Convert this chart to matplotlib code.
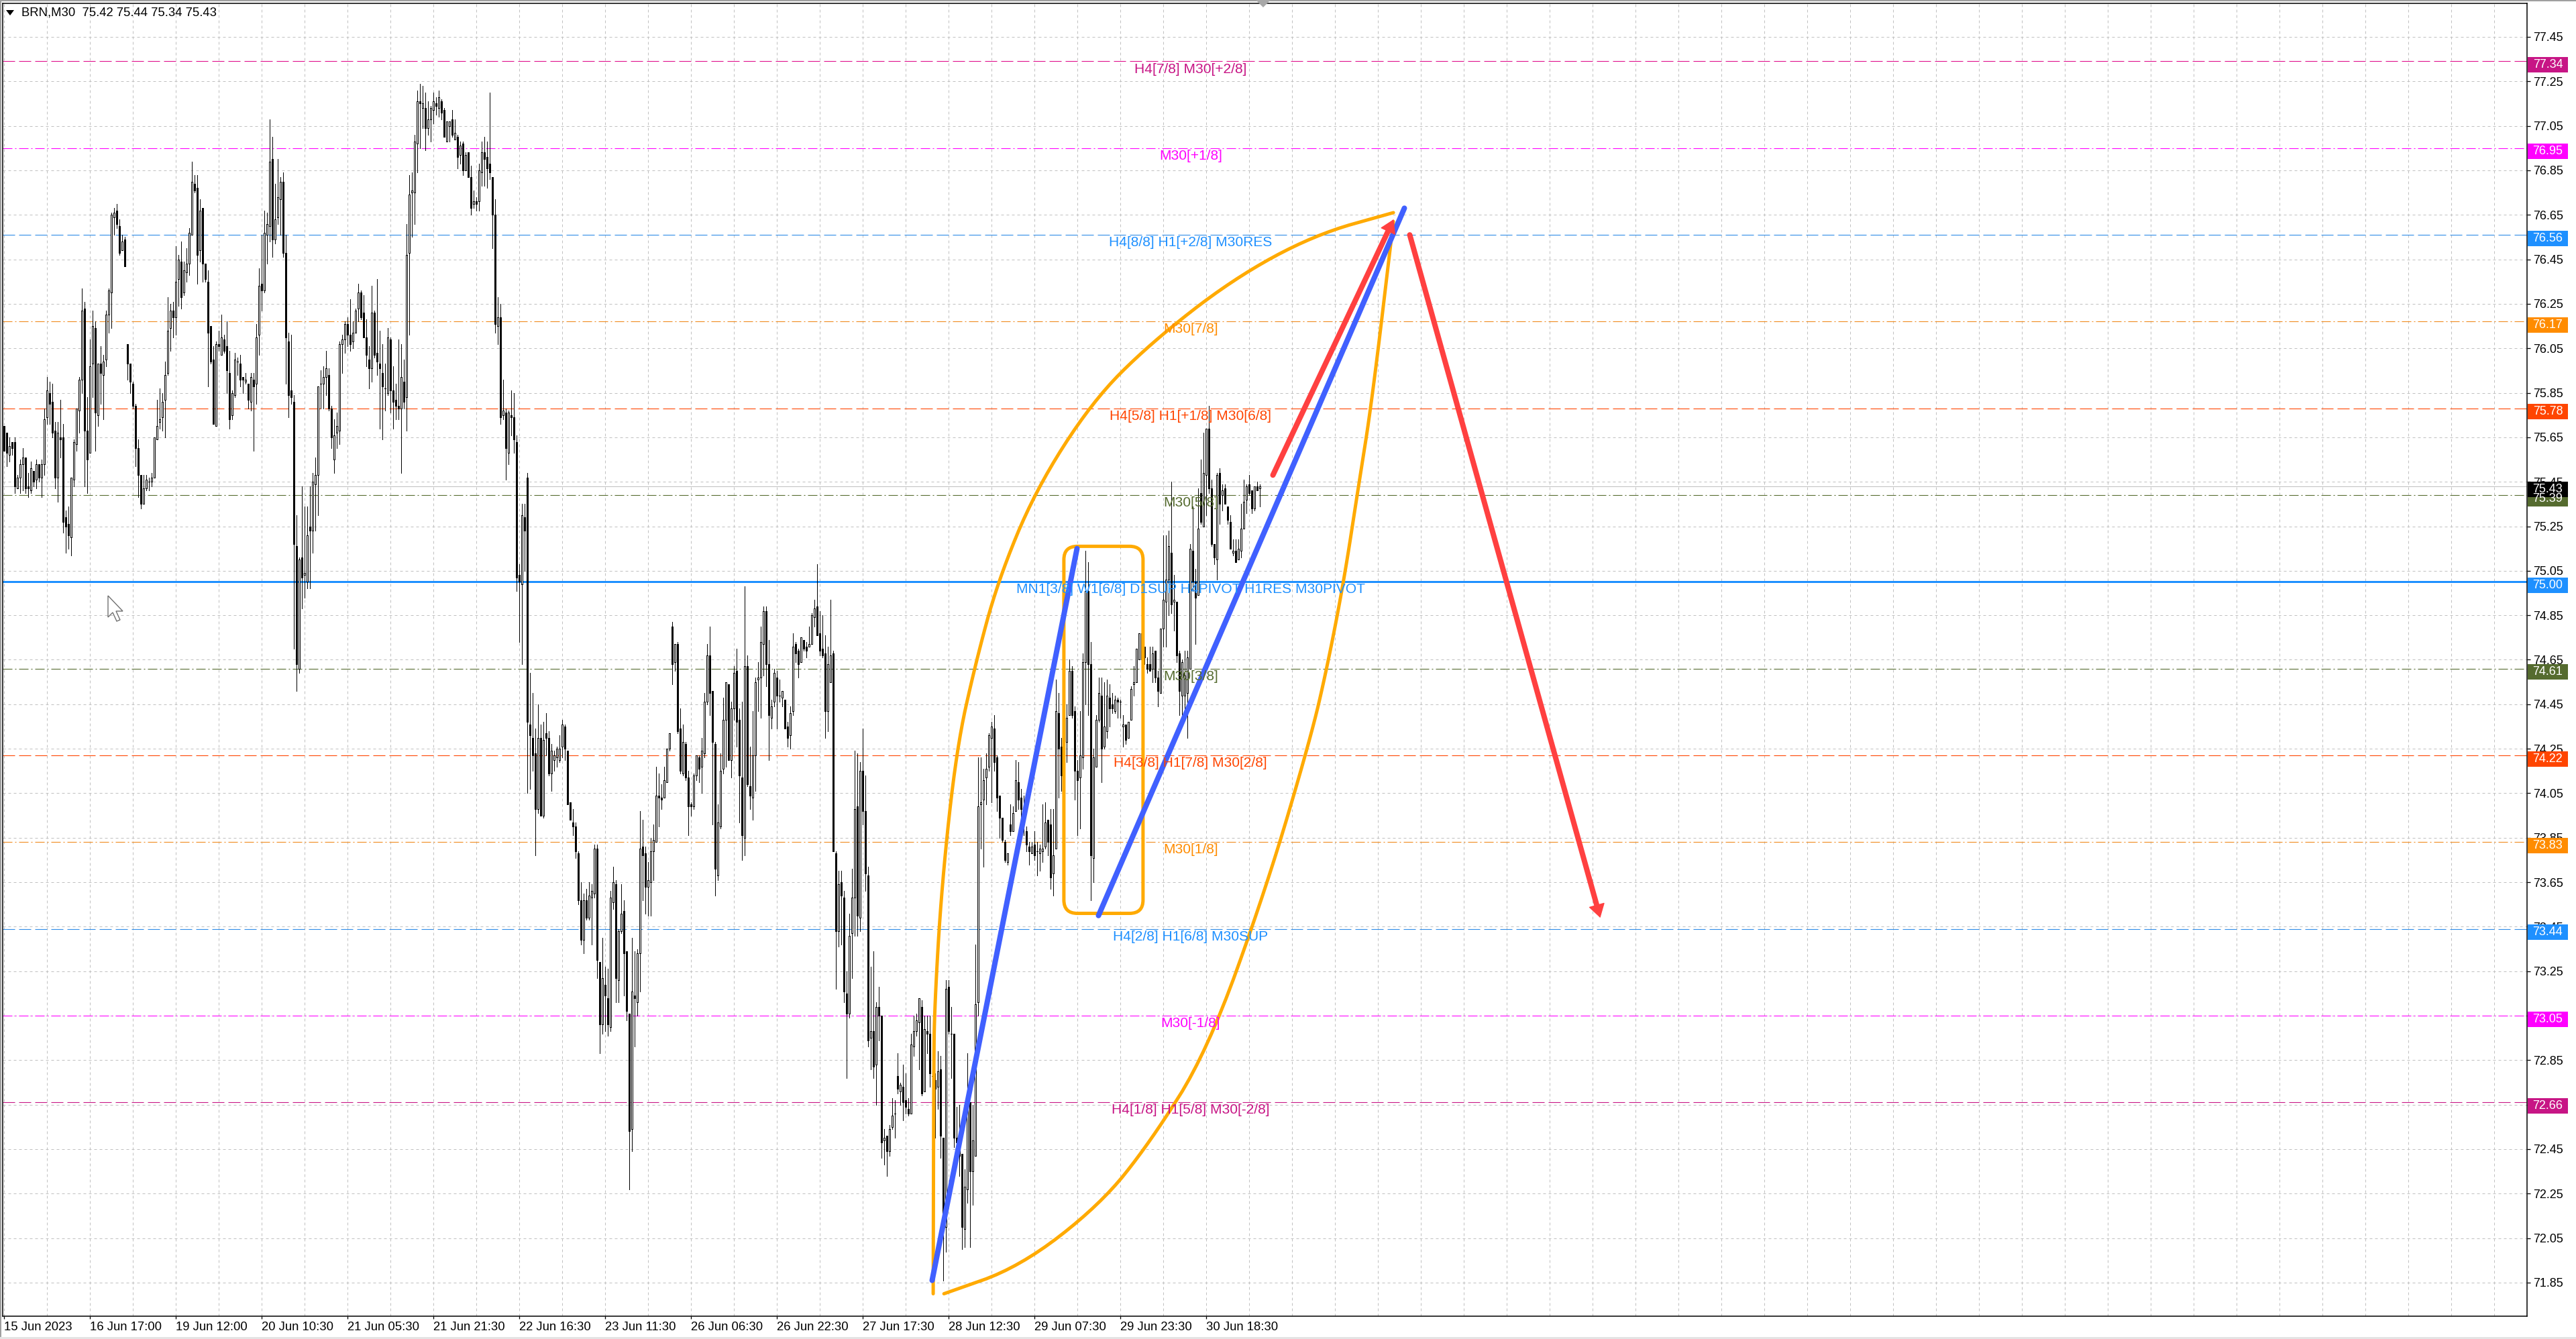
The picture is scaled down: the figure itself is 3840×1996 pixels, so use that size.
import numpy as np
import matplotlib
matplotlib.use("Agg")
import matplotlib.pyplot as plt
from matplotlib.patches import FancyBboxPatch, Polygon, Rectangle
from matplotlib.transforms import blended_transform_factory

plt.rcParams['font.family'] = ['Liberation Sans', 'DejaVu Sans']
plt.rcParams['lines.scale_dashes'] = False

opens = [
75.70,75.67,75.57,75.63,75.63,75.42,75.47,75.53,75.56,75.43,
75.41,75.50,75.46,75.53,75.47,75.53,75.74,75.85,75.81,75.68,
75.47,75.65,75.65,75.29,75.26,75.20,75.46,75.62,75.77,75.91,
76.23,75.68,75.58,75.98,76.14,75.75,75.98,75.93,76.00,76.20,
76.30,76.64,76.67,76.60,76.49,76.54,76.07,75.98,75.89,75.79,
75.60,75.48,75.35,75.42,75.45,75.45,75.47,75.64,75.72,75.74,
75.82,75.94,76.14,76.22,76.19,76.36,76.44,76.30,76.39,76.43,
76.56,76.79,76.77,76.49,76.68,76.43,76.35,76.15,76.00,75.70,
76.07,76.02,76.09,76.06,75.94,75.75,75.84,75.99,75.98,75.92,
75.90,75.89,75.81,75.91,75.89,76.11,76.34,76.31,76.56,76.60,
76.90,76.54,76.64,76.72,76.80,76.48,76.08,75.86,75.81,75.16,
74.61,75.11,75.03,75.00,75.25,75.23,75.44,75.48,75.89,75.89,
75.92,75.93,75.78,75.55,75.67,75.68,76.07,76.09,76.16,76.11,
76.08,76.12,76.23,76.30,76.21,76.10,76.00,75.96,76.21,76.03,
75.98,75.94,75.87,75.85,76.09,75.86,75.82,75.79,75.78,75.90,
75.83,76.48,76.75,76.75,76.97,77.16,77.13,77.13,77.04,77.08,
77.12,77.15,77.13,77.16,77.12,76.98,77.05,77.08,76.99,77.00,
76.92,76.97,76.85,76.93,76.82,76.70,76.71,76.71,76.84,76.93,
76.91,76.88,76.82,76.65,76.15,76.19,75.75,75.76,75.58,75.75,
75.74,75.63,75.03,74.99,75.29,75.47,74.36,74.30,74.23,73.98,
74.30,73.95,74.32,74.30,74.14,74.20,74.21,74.20,74.26,74.35,
74.24,74.01,73.92,73.90,73.78,73.57,73.39,73.57,73.49,73.58,
73.60,73.80,73.29,73.01,73.19,73.13,73.00,73.56,73.64,73.21,
73.43,73.52,73.34,73.06,72.54,73.14,73.11,73.33,73.81,73.78,
73.63,73.65,73.79,73.83,74.04,74.03,74.03,74.10,74.25,74.80,
74.64,74.72,74.34,74.14,74.27,74.12,74.00,73.99,74.13,74.21,
74.17,74.23,74.46,74.67,74.51,74.27,73.68,73.90,74.16,74.38,
74.54,74.20,74.43,74.60,74.38,74.12,73.85,74.62,74.08,74.03,
74.22,74.56,74.57,74.72,74.87,74.63,74.39,74.46,74.57,74.49,
74.48,74.47,74.35,74.31,74.42,74.72,74.69,74.64,74.74,74.71,
74.71,74.72,74.84,74.89,74.77,74.70,74.68,74.42,74.55,74.68,
73.78,73.43,73.65,73.58,73.15,73.06,73.42,73.58,73.99,73.49,
74.15,73.97,73.68,72.95,72.98,72.83,73.09,73.05,72.49,72.51,
72.44,72.55,72.61,72.78,72.71,72.73,72.67,72.63,72.61,72.91,
72.98,73.02,73.09,72.71,72.98,72.97,72.78,72.76,72.73,72.81,
72.50,72.10,73.18,72.97,72.97,72.50,72.48,72.43,72.09,72.27,
72.66,72.35,72.42,73.11,74.00,74.02,74.12,74.17,74.30,74.34,
74.21,74.04,73.94,73.83,73.74,73.91,73.88,73.97,74.10,74.03,
73.98,73.88,73.81,73.78,73.82,73.79,73.78,73.79,73.81,73.93,
73.91,73.69,73.80,74.41,74.26,74.27,74.28,74.40,74.60,74.42,
74.15,74.12,74.21,74.64,74.96,74.63,73.76,74.17,74.38,74.49,
74.26,74.33,74.48,74.45,74.42,74.47,74.46,74.35,74.36,74.30,
74.38,74.54,74.55,74.65,74.77,74.71,74.63,74.63,74.61,74.69,
74.57,74.50,74.79,74.91,75.01,75.13,74.91,74.91,74.68,74.49,
74.49,74.50,74.61,75.14,75.00,74.94,75.40,75.25,75.48,75.69,
75.42,75.17,75.10,75.49,75.39,75.42,75.34,75.27,75.13,75.14,
75.10,75.14,75.24,75.37,75.44,75.41,75.33,75.43,75.42]

highs = [
75.70,75.67,75.65,75.63,75.65,75.48,75.55,75.60,75.56,75.49,
75.54,75.50,75.55,75.53,75.55,75.78,75.92,75.90,75.89,75.72,
75.72,75.82,75.71,75.32,75.34,75.47,75.64,75.78,75.92,76.32,
76.26,75.83,76.09,76.22,76.17,75.98,76.06,76.02,76.22,76.32,
76.66,76.68,76.70,76.63,76.56,76.55,76.07,75.98,75.90,75.80,
75.64,75.48,75.48,75.48,75.47,75.49,75.65,75.82,75.87,75.85,
75.99,76.28,76.25,76.26,76.51,76.47,76.53,76.44,76.50,76.59,
76.89,76.83,76.83,76.72,76.68,76.43,76.40,76.15,76.06,76.08,
76.13,76.20,76.11,76.17,76.04,75.86,76.03,76.01,76.02,75.92,
75.94,75.89,75.94,75.94,76.16,76.41,76.56,76.67,76.66,77.08,
77.00,76.79,76.90,76.82,76.84,76.56,76.12,76.11,75.84,75.30,
75.11,75.43,75.34,75.34,75.43,75.49,75.56,75.88,75.95,75.97,
76.04,75.96,75.79,75.73,75.76,76.08,76.11,76.17,76.19,76.27,
76.17,76.23,76.34,76.31,76.29,76.18,76.06,76.33,76.22,76.36,
76.13,76.07,75.98,76.14,76.10,75.97,75.89,76.09,76.07,76.00,
76.61,76.83,76.84,77.01,77.21,77.24,77.23,77.20,77.16,77.14,
77.20,77.18,77.21,77.17,77.13,77.07,77.07,77.12,77.08,77.01,
76.98,76.98,76.93,76.93,76.87,76.76,76.73,76.88,76.98,77.00,
76.98,77.20,76.82,76.72,76.28,76.25,75.91,75.78,75.77,75.86,
75.85,75.66,75.08,75.35,75.35,75.49,74.59,74.50,74.34,74.45,
74.36,74.37,74.41,74.33,74.27,74.24,74.26,74.31,74.38,74.36,
74.24,74.01,73.98,73.92,73.79,73.65,73.60,73.62,73.65,73.64,
73.82,73.82,73.29,73.40,73.27,73.26,73.61,73.72,73.66,73.44,
73.64,73.57,73.34,73.06,73.40,73.34,73.35,73.97,73.93,73.81,
73.74,73.85,73.91,74.17,74.14,74.09,74.17,74.25,74.32,74.82,
74.72,74.73,74.43,74.36,74.28,74.15,74.01,74.14,74.22,74.22,
74.30,74.50,74.72,74.80,74.51,74.28,74.00,74.23,74.48,74.55,
74.54,74.46,74.62,74.70,74.43,74.46,74.98,74.67,74.26,74.42,
74.57,74.64,74.80,74.89,74.89,74.74,74.47,74.61,74.60,74.56,
74.51,74.47,74.37,74.44,74.77,74.73,74.70,74.75,74.74,74.73,
74.80,74.86,74.92,75.08,74.87,74.85,74.76,74.71,74.92,74.69,
73.79,73.70,73.70,73.61,73.25,73.51,73.71,74.24,74.23,74.19,
74.34,74.13,73.72,73.27,73.34,73.11,73.18,73.05,72.54,72.51,
72.56,72.68,72.67,72.88,72.75,72.83,72.79,72.68,72.97,73.05,
73.06,73.13,73.12,73.05,73.05,73.05,72.79,72.79,72.89,72.87,
72.50,73.21,73.21,73.09,72.97,72.64,72.65,72.43,72.36,72.88,
72.66,72.65,73.37,74.21,74.21,74.16,74.23,74.32,74.37,74.40,
74.22,74.04,73.94,73.84,73.78,74.00,73.99,74.20,74.19,74.07,
74.04,73.90,73.83,73.83,73.88,73.83,73.82,74.00,74.01,73.93,
73.98,73.98,74.56,74.50,74.30,74.32,74.45,74.65,74.62,74.44,
74.20,74.42,74.68,75.14,75.09,74.73,74.25,74.40,74.57,74.57,
74.55,74.56,74.54,74.50,74.49,74.48,74.47,74.40,74.36,74.37,
74.53,74.62,74.70,74.77,74.77,74.71,74.66,74.71,74.71,74.69,
74.60,74.79,75.21,75.21,75.23,75.45,75.03,74.91,74.69,74.65,
74.69,74.69,75.17,75.34,75.06,75.42,75.55,75.67,75.69,75.79,
75.46,75.17,75.49,75.51,75.44,75.44,75.34,75.30,75.19,75.19,
75.19,75.35,75.46,75.44,75.48,75.41,75.43,75.45,75.44]

lows = [
75.59,75.52,75.54,75.57,75.40,75.42,75.40,75.41,75.40,75.38,
75.40,75.43,75.42,75.45,75.38,75.48,75.71,75.71,75.65,75.42,
75.36,75.56,75.22,75.13,75.15,75.12,75.43,75.59,75.67,75.85,
75.43,75.40,75.58,75.83,75.59,75.70,75.80,75.73,75.97,76.12,
76.14,76.56,76.59,76.47,76.49,76.42,75.91,75.85,75.78,75.52,
75.38,75.33,75.35,75.41,75.41,75.43,75.47,75.64,75.69,75.68,
75.65,75.93,76.04,76.10,76.11,76.24,76.23,76.29,76.35,76.38,
76.56,76.75,76.34,76.44,76.35,76.35,75.88,75.98,75.71,75.70,
76.04,76.02,76.03,75.85,75.69,75.73,75.83,75.93,75.88,75.85,
75.89,75.78,75.77,75.59,75.80,76.02,76.22,76.30,76.43,76.53,
76.46,76.52,76.61,76.56,76.46,75.89,75.74,75.80,74.70,74.51,
74.59,74.88,74.93,74.97,74.97,75.13,75.23,75.30,75.78,75.78,
75.84,75.77,75.60,75.49,75.60,75.62,75.94,76.03,76.06,76.04,
76.05,76.12,76.17,76.18,76.10,75.97,75.87,75.90,76.01,75.93,
75.69,75.64,75.77,75.84,75.76,75.69,75.73,75.73,75.49,75.78,
75.68,76.11,76.55,76.61,76.84,76.95,77.04,76.94,77.01,76.98,
77.06,77.10,77.09,77.08,77.00,76.98,76.98,77.00,76.99,76.86,
76.88,76.83,76.85,76.82,76.65,76.68,76.67,76.67,76.78,76.78,
76.77,76.81,76.50,76.12,76.07,75.71,75.73,75.46,75.53,75.66,
75.58,74.96,74.73,74.63,75.05,74.05,74.07,74.15,73.77,73.96,
73.95,73.94,74.22,74.13,74.06,74.15,74.17,74.19,74.21,74.20,
74.00,73.93,73.86,73.76,73.55,73.37,73.33,73.48,73.48,73.37,
73.58,73.22,72.88,72.97,72.98,72.96,72.98,73.53,73.11,73.11,
73.42,73.14,73.03,72.27,72.44,72.91,73.05,73.16,73.57,73.51,
73.50,73.50,73.66,73.83,73.90,73.98,74.03,74.10,74.24,74.54,
74.60,74.32,74.14,74.13,74.11,73.86,73.95,73.98,74.11,74.10,
74.05,74.21,74.45,74.40,73.91,73.59,73.66,73.89,74.14,74.17,
74.20,74.12,74.38,74.26,73.92,73.75,73.77,74.08,73.98,73.93,
74.06,74.42,74.39,74.58,74.53,74.20,74.34,74.44,74.34,74.46,
74.44,74.34,74.26,74.25,74.40,74.64,74.57,74.64,74.69,74.66,
74.71,74.72,74.80,74.76,74.67,74.66,74.30,74.33,74.55,73.79,
73.17,73.36,73.37,73.11,72.77,73.04,73.22,73.41,73.41,73.43,
73.91,73.61,72.91,72.81,72.77,72.65,72.94,72.41,72.38,72.33,
72.42,72.54,72.50,72.70,72.65,72.58,72.61,72.60,72.61,72.87,
72.96,72.81,72.69,72.71,72.88,72.73,72.77,72.50,72.63,72.41,
71.86,71.99,72.97,72.77,72.46,72.44,72.33,72.00,72.01,72.21,
72.01,72.20,72.42,73.05,73.80,73.72,74.00,74.15,74.01,74.15,
73.97,73.85,73.83,73.74,73.73,73.86,73.88,73.97,73.98,73.89,
73.86,73.79,73.73,73.78,73.75,73.68,73.70,73.74,73.80,73.77,
73.62,73.59,73.80,74.03,74.06,74.10,74.19,74.40,74.39,74.02,
73.86,73.89,74.16,74.45,74.40,73.57,73.65,74.17,74.37,74.10,
74.25,74.30,74.35,74.41,74.41,74.39,74.39,74.26,74.27,74.30,
74.38,74.49,74.55,74.65,74.63,74.63,74.59,74.60,74.55,74.55,
74.44,74.50,74.71,74.71,74.85,74.86,74.78,74.64,74.40,74.39,
74.40,74.30,74.61,74.96,74.72,74.94,75.26,75.25,75.30,75.40,
75.16,75.08,75.01,75.26,75.32,75.35,75.26,75.15,75.12,75.09,
75.10,75.11,75.24,75.31,75.39,75.31,75.32,75.41,75.34]

closes = [
75.59,75.58,75.61,75.60,75.43,75.47,75.53,75.56,75.42,75.42,
75.51,75.45,75.53,75.47,75.53,75.73,75.86,75.80,75.67,75.47,
75.67,75.64,75.27,75.25,75.21,75.47,75.63,75.78,75.91,76.22,
75.68,75.55,75.97,76.15,75.76,75.98,75.94,75.99,76.20,76.31,
76.65,76.66,76.61,76.48,76.53,76.42,75.98,75.90,75.79,75.60,
75.48,75.35,75.42,75.46,75.45,75.47,75.65,75.70,75.73,75.81,
75.93,76.13,76.22,76.19,76.35,76.45,76.28,76.40,76.43,76.57,
76.80,76.76,76.47,76.67,76.43,76.36,76.12,75.99,75.71,76.07,
76.06,76.10,76.04,75.95,75.73,75.85,76.00,75.99,75.91,75.91,
75.91,75.82,75.92,75.88,76.10,76.33,76.31,76.57,76.61,76.89,
76.54,76.63,76.73,76.80,76.48,76.10,75.84,75.83,75.17,74.63,
75.10,75.02,75.04,75.21,75.23,75.45,75.48,75.88,75.89,75.92,
75.96,75.78,75.65,75.66,75.70,76.07,76.09,76.16,76.11,76.07,
76.12,76.22,76.30,76.19,76.10,76.02,75.96,76.21,76.02,75.99,
75.96,75.88,75.87,76.10,75.86,75.81,75.79,75.78,75.92,75.81,
76.47,76.74,76.76,76.98,77.16,77.15,77.15,77.04,77.08,77.13,
77.16,77.14,77.18,77.11,77.00,77.07,77.07,77.01,77.02,76.91,
76.96,76.85,76.92,76.82,76.68,76.71,76.70,76.85,76.93,76.90,
76.86,76.84,76.65,76.16,76.19,75.74,75.77,75.60,75.76,75.74,
75.64,75.02,75.00,75.30,75.23,74.37,74.31,74.22,73.98,74.30,
73.95,74.29,74.30,74.14,74.24,74.22,74.25,74.25,74.36,74.25,
74.00,73.93,73.90,73.79,73.57,73.39,73.57,73.49,73.59,73.61,
73.80,73.30,73.01,73.22,73.14,73.01,73.58,73.65,73.22,73.43,
73.51,73.33,73.07,72.53,73.16,73.13,73.33,73.80,73.77,73.63,
73.66,73.79,73.84,74.04,74.03,74.02,74.11,74.25,74.32,74.63,
74.72,74.33,74.15,74.28,74.12,73.99,73.99,74.13,74.22,74.16,
74.24,74.46,74.67,74.50,74.28,73.71,73.92,74.15,74.38,74.55,
74.20,74.43,74.59,74.37,74.13,73.86,74.62,74.09,74.04,74.22,
74.55,74.57,74.73,74.87,74.63,74.40,74.44,74.59,74.49,74.49,
74.51,74.34,74.30,74.41,74.71,74.68,74.63,74.75,74.70,74.69,
74.72,74.85,74.88,74.76,74.69,74.67,74.42,74.63,74.67,73.79,
73.43,73.64,73.59,73.16,73.06,73.41,73.58,73.98,73.50,74.15,
73.97,73.69,72.94,72.98,72.82,73.09,73.05,72.48,72.50,72.44,
72.54,72.60,72.61,72.72,72.74,72.66,72.64,72.61,72.92,72.98,
73.03,73.13,72.70,72.99,72.97,72.79,72.78,72.72,72.80,72.51,
72.10,73.17,72.98,72.97,72.50,72.48,72.42,72.10,72.28,72.64,
72.35,72.49,73.10,73.99,74.01,74.11,74.16,74.31,74.35,74.19,
74.03,73.94,73.84,73.75,73.78,73.88,73.96,74.11,74.02,73.98,
73.91,73.82,73.79,73.81,73.77,73.79,73.80,73.80,73.92,73.83,
73.67,73.77,74.42,74.25,74.13,74.12,74.39,74.60,74.40,74.15,
74.11,74.22,74.64,74.96,74.63,73.77,74.21,74.38,74.50,74.25,
74.35,74.49,74.43,74.43,74.47,74.46,74.46,74.36,74.29,74.37,
74.52,74.55,74.70,74.77,74.65,74.66,74.61,74.60,74.68,74.57,
74.51,74.79,74.92,75.01,75.16,74.90,74.92,74.67,74.51,74.64,
74.58,74.66,75.15,75.00,74.93,75.24,75.27,75.49,75.69,75.42,
75.17,75.11,75.48,75.35,75.41,75.35,75.28,75.15,75.14,75.09,
75.15,75.24,75.36,75.43,75.40,75.33,75.43,75.41,75.43]

level_prices = [77.34, 76.95, 76.56, 76.17, 75.78, 75.39, 75.00, 74.61, 74.22, 73.83, 73.44, 73.05, 72.66]
level_texts = ["H4[7/8] M30[+2/8]", "M30[+1/8]", "H4[8/8] H1[+2/8] M30RES", "M30[7/8]",
               "H4[5/8] H1[+1/8] M30[6/8]", "M30[5/8]",
               "MN1[3/8] W1[6/8] D1SUP H4PIVOT H1RES M30PIVOT", "M30[3/8]",
               "H4[3/8] H1[7/8] M30[2/8]", "M30[1/8]", "H4[2/8] H1[6/8] M30SUP", "M30[-1/8]",
               "H4[1/8] H1[5/8] M30[-2/8]"]
level_colors = ["#C71585", "#FF00FF", "#1E90FF", "#FF8C00", "#FF4500", "#556B2F", "#1E90FF",
                "#556B2F", "#FF4500", "#FF8C00", "#1E90FF", "#FF00FF", "#C71585"]
level_line_colors = ["#E0108C", "#FF00FF", "#2E8BE8", "#F08A1E", "#FF4500", "#556B2F", "#1E90FF",
                     "#556B2F", "#FF4500", "#F08A1E", "#2E8BE8", "#FF00FF", "#C71585"]
level_kinds = ["dash", "dot", "dash", "dot", "dash", "dot", "solid", "dot", "dash", "dot", "dash", "dot", "dash"]

current_price = 75.43

ytick_values = [77.45,77.25,77.05,76.85,76.65,76.45,76.25,76.05,75.85,75.65,75.45,75.25,75.05,74.85,74.65,
                74.45,74.25,74.05,73.85,73.65,73.45,73.25,73.05,72.85,72.65,72.45,72.25,72.05,71.85]
xtick_labels = ["15 Jun 2023","16 Jun 17:00","19 Jun 12:00","20 Jun 10:30","21 Jun 05:30","21 Jun 21:30",
                "22 Jun 16:30","23 Jun 11:30","26 Jun 06:30","26 Jun 22:30","27 Jun 17:30","28 Jun 12:30",
                "29 Jun 07:30","29 Jun 23:30","30 Jun 18:30"]

blue_a_x = [346, 400]
blue_a_y = [71.86, 75.15]
blue_b_x = [408, 522]
blue_b_y = [73.50, 76.68]
red_up_x = [473, 518]
red_up_y = [75.48, 76.63]
red_down_x = [524, 595]
red_down_y = [76.56, 73.49]
arc_upper_x = [346.4, 346.6, 346.9, 349.6, 355.1, 362.1, 370.4, 384.4, 405.6, 427.1, 457.9, 488.4, 517.9]
arc_upper_y = [71.80, 72.81, 73.09, 73.64, 74.25, 74.63, 75.00, 75.41, 75.81, 76.07, 76.36, 76.56, 76.66]
arc_lower_x = [350.4, 378.6, 408.6, 427.2, 448.6, 470.7, 487.1, 493.1, 499.4, 504.9, 509.9, 517.9]
arc_lower_y = [71.80, 71.92, 72.20, 72.48, 72.89, 73.63, 74.30, 74.61, 75.00, 75.43, 75.81, 76.62]
box_x = [395.1, 424.6]
box_y = [73.51, 75.16]

W, H = 3840, 1996
PX = 0.72
L, R, T, B = 3.5, 3767.0, 4.5, 1962.0
fig = plt.figure(figsize=(W/100, H/100), dpi=100, facecolor="white")
ax = fig.add_axes([L/W, 1-B/H, (R-L)/W, (B-T)/H])
ax.set_xlim((L-5.5)/4, (R-5.5)/4)
ax.set_ylim(77.45-(B-55)/331.6, 77.45+(55-T)/331.6)

def chaikin(xs, ys, n=3):
    p = np.column_stack([xs, ys])
    for _ in range(n):
        q = [p[0]]
        for a, b in zip(p[:-1], p[1:]):
            q += [0.75*a+0.25*b, 0.25*a+0.75*b]
        q.append(p[-1])
        p = np.array(q)
    return p[:, 0], p[:, 1]

# grid
ax.set_xticks(np.arange(0, 469, 32))
ax.set_xticklabels(xtick_labels, ha="left")
ax.set_xticks(np.arange(16, 941, 16), minor=True)
ax.set_yticks(ytick_values)
ax.set_yticklabels([f"{v:.2f}" for v in ytick_values])
ax.yaxis.tick_right()
grid_kw = dict(color="#C0C0C0", linewidth=PX, linestyle=(0, (4*PX, 4*PX)))
ax.grid(True, which="major", axis="both", **grid_kw)
ax.grid(True, which="minor", axis="x", **grid_kw)
ax.set_axisbelow(True)
ax.tick_params(axis="x", which="major", length=4*PX, width=PX*1.3, pad=3, labelsize=13.3, direction="out")
ax.tick_params(axis="x", which="minor", length=0)
ax.tick_params(axis="y", which="major", length=5*PX, width=PX*1.3, pad=3, labelsize=13.0, direction="out")
for s in ax.spines.values():
    s.set_linewidth(1.1)
    s.set_color("black")

# levels
for p, c, k in zip(level_prices, level_line_colors, level_kinds):
    if k == "dash":
        ax.axhline(p, color=c, lw=PX*1.1, ls=(0, (18*PX, 6*PX)), zorder=1.5)
    elif k == "dot":
        ax.axhline(p, color=c, lw=PX*1.1, ls=(0, (14*PX, 4*PX, 2*PX, 4*PX)), zorder=1.5)
    else:
        ax.axhline(p, color=c, lw=PX*3, zorder=1.5)
ax.axhline(current_price, color="#C0C0C0", lw=PX, zorder=1.4)

# candles
idx = np.arange(len(closes))
o, h, l, c = map(np.array, (opens, highs, lows, closes))
ax.vlines(idx, l, h, color="black", lw=PX*1.0, zorder=3, antialiased=False)
up = c >= o
bw = 0.5
ax.bar(idx[up], (c-o)[up], bottom=o[up], width=bw, facecolor="white", edgecolor="black",
       linewidth=PX, zorder=3.2, antialiased=False)
ax.bar(idx[~up], (o-c)[~up], bottom=c[~up], width=bw, facecolor="black", edgecolor="black",
       linewidth=PX, zorder=3.2, antialiased=False)

# level texts
for p, t, col in zip(level_prices, level_texts, level_colors):
    ax.annotate(t, (442.3, p), xytext=(0, -8.3), textcoords="offset points", ha="center", va="center",
                fontsize=15.1, color=col, zorder=6)

# drawn objects
orange = "#FFAA00"
xu, yu = chaikin(arc_upper_x, arc_upper_y)
xl, yl = chaikin(arc_lower_x, arc_lower_y)
ax.plot(xu, yu, color=orange, lw=PX*5, zorder=5, solid_capstyle="round", solid_joinstyle="round")
ax.plot(xl, yl, color=orange, lw=PX*5, zorder=5, solid_capstyle="round", solid_joinstyle="round")
ax.add_patch(FancyBboxPatch((box_x[0], box_y[0]), box_x[1]-box_x[0], box_y[1]-box_y[0],
                            boxstyle="round,pad=0,rounding_size=5", mutation_aspect=0.012,
                            fc="none", ec=orange, lw=PX*5, zorder=5))
for bx, by in ((blue_a_x, blue_a_y), (blue_b_x, blue_b_y)):
    ax.plot(bx, by, color="#4060FF", lw=PX*8, zorder=5.2, solid_capstyle="round")

def arrow(xs, ys):
    a = ax.transData.transform((xs[0], ys[0]))
    b = ax.transData.transform((xs[1], ys[1]))
    f = 1 - 12/np.hypot(*(b-a))
    e = ax.transData.inverted().transform(a + (b-a)*f)
    ax.plot([xs[0], e[0]], [ys[0], e[1]], color="#FF4040", lw=PX*8, zorder=5.4, solid_capstyle="round")
    ax.annotate("", xy=(xs[1], ys[1]), xytext=(xs[0], ys[0]), zorder=5.5,
                arrowprops=dict(arrowstyle="-|>,head_length=1.3,head_width=0.8", mutation_scale=10,
                                color="#FF4040", lw=1, shrinkA=0, shrinkB=0))
arrow(red_up_x, red_up_y)
arrow(red_down_x, red_down_y)

# price tags
trans = blended_transform_factory(fig.transFigure, ax.transData)
def tag(price, col, fg="white"):
    yc = price - 5/331.6
    hh = 11.5/331.6
    ax.add_patch(Rectangle((3768/W, yc-hh), 60/W, 2*hh, transform=trans, fc=col, ec="none",
                           clip_on=False, zorder=10))
    ax.text(3798/W, yc, f"{price:.2f}", transform=trans, color=fg, fontsize=13.0, ha="center",
            va="center", clip_on=False, zorder=11)
for p, col in zip(level_prices, level_colors):
    tag(p, col)
tag(current_price, "black")

# header and window furniture
def fp(pts):
    return [(x/W, 1-y/H) for x, y in pts]
fig.text(32/W, 1-19/H, "BRN,M30  75.42 75.44 75.34 75.43", fontsize=13.3, color="black", va="center", ha="left")
fig.add_artist(Polygon(fp([(9, 15), (21, 15), (15, 23)]), closed=True, fc="black", ec="none", transform=fig.transFigure))
fig.add_artist(Rectangle((0, 1-2/H), 1, 2/H, transform=fig.transFigure, fc="#A0A0A0", ec="none"))
fig.add_artist(Rectangle((0, 0), 2/W, 1, transform=fig.transFigure, fc="#A0A0A0", ec="none"))
fig.add_artist(Rectangle((0, 0), 1, 3/H, transform=fig.transFigure, fc="#E4E4E4", ec="none"))
fig.add_artist(Polygon(fp([(1872, 0), (1894, 0), (1883, 11)]), closed=True, fc="#A8A8A8", ec="none", transform=fig.transFigure, zorder=9))
fig.add_artist(Polygon(fp([(161, 888), (161, 920), (168, 913), (174, 926), (179, 924), (173, 911), (183, 911)]),
                       closed=True, fc="white", ec="#707070", lw=1, transform=fig.transFigure, zorder=8))

fig.savefig("out.png", dpi=100, facecolor="white")
